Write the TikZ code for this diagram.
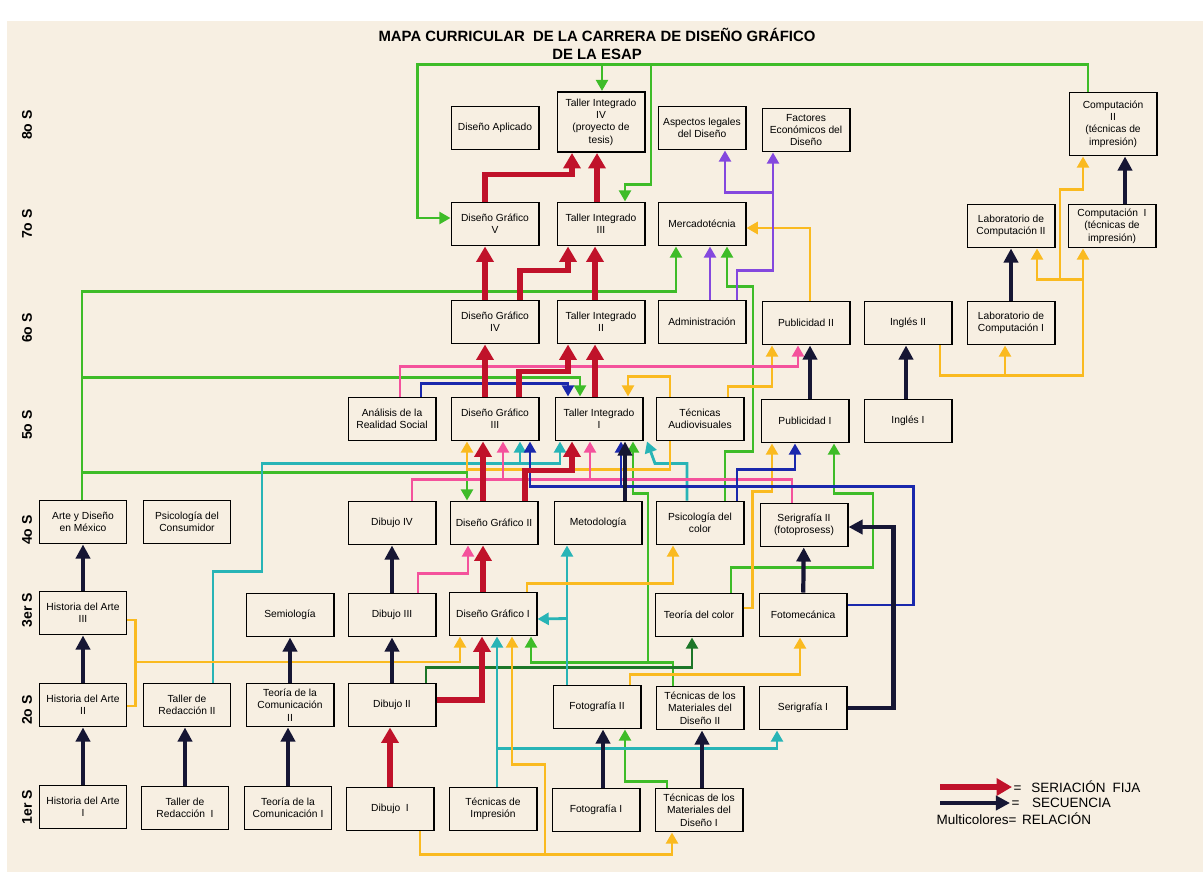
\documentclass[tikz,border=0pt]{standalone}
\usepackage{fontspec}
\setmainfont{Liberation Sans}
\usetikzlibrary{arrows.meta,calc}

\definecolor{papel}{RGB}{247,239,226}
\definecolor{rojo}{RGB}{192,18,42}
\definecolor{marino}{RGB}{22,22,52}
\definecolor{verde}{RGB}{62,188,40}
\definecolor{verdeosc}{RGB}{28,118,40}
\definecolor{turquesa}{RGB}{40,180,182}
\definecolor{amarillo}{RGB}{250,186,32}
\definecolor{rosa}{RGB}{244,82,156}
\definecolor{azul}{RGB}{26,40,172}
\definecolor{morado}{RGB}{132,72,222}

\begin{document}
\begin{tikzpicture}[
    x=0.025cm, y=-0.025cm,
    box/.style={draw,line width=1.4pt,fill=papel,minimum width=2.175cm,minimum height=1.075cm,
        align=center,inner sep=1pt,font=\fontsize{7.3}{8.8}\selectfont},
    semestre/.style={rotate=90,font=\bfseries\fontsize{10}{12}\selectfont},
    fija/.style={draw=rojo,line width=3.8pt,-{Triangle[width=12pt,length=11pt]}},
    secuencia/.style={draw=marino,line width=3pt,-{Triangle[width=10pt,length=10pt]}},
    rel/.style={line width=2pt,-{Triangle[width=8.5pt,length=8pt]}},
    liga/.style={line width=2pt},
]
\fill[white] (0,0) rectangle (1203,886);
\fill[papel] (7,21) rectangle (1203,872);
\useasboundingbox (0,0) rectangle (1203,886);

\node[font=\bfseries\fontsize{10.6}{12.8}\selectfont,align=center] (titulo) at (597,44)
    {MAPA CURRICULAR\ \ DE LA CARRERA DE DISEÑO GRÁFICO\\DE LA ESAP};

% semestres
\node[semestre] (s8) at (27,125) {8o S};
\node[semestre] (s7) at (27,224) {7o S};
\node[semestre] (s6) at (27,328) {6o S};
\node[semestre] (s5) at (27,425) {5o S};
\node[semestre] (s4) at (27,530) {4o S};
\node[semestre] (s3) at (27,610) {3er S};
\node[semestre] (s2) at (27,710) {2o S};
\node[semestre] (s1) at (27,807) {1er S};

% 8o semestre
\node[box] (dap) at (495,128) {Diseño Aplicado};
\node[box,minimum height=1.5cm] (ti4) at (601,122) {Taller Integrado\\IV\\(proyecto de\\tesis)};
\node[box] (asl) at (702,128) {Aspectos legales\\del Diseño};
\node[box] (fec) at (806,130) {Factores\\Económicos del\\Diseño};
\node[box,minimum height=1.575cm] (comp2) at (1113,124) {Computación\\II\\(técnicas de\\impresión)};

% 7o semestre
\node[box] (dg5) at (495,224) {Diseño Gráfico\\V};
\node[box] (ti3) at (601,224) {Taller Integrado\\III};
\node[box] (merc) at (702,224) {Mercadotécnia};
\node[box] (lab2) at (1011,226) {Laboratorio de\\Computación II};
\node[box] (comp1) at (1112,226) {Computación~~I\\(técnicas de\\impresión)};

% 6o semestre
\node[box] (dg4) at (495,322) {Diseño Gráfico\\IV};
\node[box] (ti2) at (601,322) {Taller Integrado\\II};
\node[box] (adm) at (702,322) {Administración};
\node[box] (pub2) at (806,323) {Publicidad II};
\node[box] (ing2) at (908,323) {Inglés II};
\node[box] (lab1) at (1011,323) {Laboratorio de\\Computación I};

% 5o semestre
\node[box] (ars) at (392,419) {Análisis de la\\Realidad Social};
\node[box] (dg3) at (495,419) {Diseño Gráfico\\III};
\node[box] (ti1) at (599,419) {Taller Integrado\\I};
\node[box] (tav) at (700,419) {Técnicas\\Audiovisuales};
\node[box] (pub1) at (805,421) {Publicidad I};
\node[box] (ing1) at (908,421) {Inglés I};

% 4o semestre
\node[box] (arm) at (83,522) {Arte y Diseño\\en México};
\node[box] (pcons) at (187,522) {Psicología del\\Consumidor};
\node[box] (dib4) at (392,523) {Dibujo IV};
\node[box] (dg2) at (494,523) {Diseño Gráfico II};
\node[box] (met) at (598,523) {Metodología};
\node[box] (pcol) at (700,523) {Psicología del\\color};
\node[box] (ser2) at (804,525) {Serigrafía II\\(fotoprosess)};

% 3er semestre
\node[box] (ha3) at (83,613) {Historia del Arte\\III};
\node[box] (sem) at (290,615) {Semiología};
\node[box] (dib3) at (392,615) {Dibujo III};
\node[box] (dg1) at (493,614) {Diseño Gráfico I};
\node[box] (tcol) at (699,615) {Teoría del color};
\node[box] (fmec) at (803,615) {Fotomecánica};

% 2o semestre
\node[box] (ha2) at (83,705) {Historia del Arte\\II};
\node[box] (tr2) at (187,705) {Taller de\\Redacción II};
\node[box] (tc2) at (290,705) {Teoría de la\\Comunicación\\II};
\node[box] (dib2) at (392,705) {Dibujo II};
\node[box] (fot2) at (597,707) {Fotografía II};
\node[box] (tm2) at (700,708) {Técnicas de los\\Materiales del\\Diseño II};
\node[box] (ser1) at (803,708) {Serigrafía I};

% 1er semestre
\node[box] (ha1) at (83,807) {Historia del Arte\\I};
\node[box] (tr1) at (185,808) {Taller de\\Redacción~~I};
\node[box] (tc1) at (288,808) {Teoría de la\\Comunicación I};
\node[box] (dib1) at (390,809) {Dibujo~~I};
\node[box] (timp) at (493,809) {Técnicas de\\Impresión};
\node[box] (fot1) at (596,810) {Fotografía I};
\node[box] (tm1) at (699,810) {Técnicas de los\\Materiales del\\Diseño I};

% relacion - verde
\draw[rel,verde] ($(comp2.north)+(-25,0)$) -- ++(0,-27) -| ($(dg5.west)+(-33,-6)$) -- ($(dg5.west)+(0,-6)$);
\draw[rel,verde] ($(ti4.north)+(1,-27)$) -- ($(ti4.north)+(1,0)$);
\draw[rel,verde] ($(ti3.north)+(50,-137)$) |- ($(ti3.north)+(24,-17)$) -- ($(ti3.north)+(24,0)$);
\draw[rel,verde] ($(arm.north)+(-1,0)$) |- ($(merc.south)+(-26,45)$) -- ($(merc.south)+(-26,0)$);
\draw[rel,verde] ($(arm.north)+(-1,-122)$) -| ($(ti1.north)+(-19,0)$);
\draw[rel,verde] ($(arm.north)+(-1,-27)$) -| ($(dg2.north)+(-27,0)$);
\draw[rel,verde] ($(pcol.north)+(25,0)$) -- ++(0,-49) -- ++(28,0) |- ($(merc.south)+(25,40)$) -- ($(merc.south)+(25,0)$);
\draw[rel,verde] ($(tm2.north)+(-27,0)$) |- ($(dg1.south)+(38,26)$) -- ($(dg1.south)+(38,0)$);
\draw[rel,verde] ($(tm2.north)+(-52,-24)$) |- ($(ti1.south)+(34,52)$) -- ($(ti1.south)+(34,0)$);
\draw[rel,verde] ($(tm1.north)+(-32,0)$) |- ($(fot2.south)+(28,52)$) -- ($(fot2.south)+(28,0)$);
\draw[rel,verde] ($(tcol.north)+(32,0)$) -- ++(0,-25) -- ++(142,0) |- ($(pub1.south)+(29,50)$) -- ($(pub1.south)+(29,0)$);
\draw[rel,verdeosc] ($(dib2.north)+(34,0)$) |- ($(tcol.south)+(-7,30)$) -- ($(tcol.south)+(-7,0)$);

% relacion - turquesa
\draw[rel,turquesa] ($(tr2.north)+(26,0)$) |- ($(sem.north)+(-28,-21)$) |- ($(ti1.south)+(-39,22)$) -- ($(ti1.south)+(-39,0)$);
\draw[rel,turquesa] ($(dg3.south)+(25,22)$) -- ($(dg3.south)+(25,0)$);
\draw[rel,turquesa] ($(pcol.north)+(-13,0)$) |- ($(ti1.south)+(56,22)$) -- ($(ti1.south)+(48,0)$);
\draw[rel,turquesa] ($(timp.north)+(4,0)$) -- ($(dg1.south)+(4,0)$);
\draw[rel,turquesa] ($(timp.north)+(4,-38)$) -| ($(ser1.south)+(-26,0)$);
\draw[rel,turquesa] ($(fot2.north)+(-30,0)$) -- ($(met.south)+(-31,0)$);
\draw[rel,turquesa] ($(fot2.north)+(-30,-66)$) -- ($(dg1.east)+(0,5)$);

% relacion - amarillo
\draw[liga,amarillo] ($(ha2.east)+(0,1)$) -| ($(ha3.east)+(8,7)$) -- ($(ha3.east)+(0,7)$);
\draw[rel,amarillo] ($(ha3.east)+(8,49)$) -| ($(dg1.south)+(-33,0)$);
\draw[rel,amarillo] ($(dib1.south)+(30,0)$) |- ($(tm1.south)+(-27,22)$) -- ($(tm1.south)+(-27,0)$);
\draw[rel,amarillo] ($(timp.south)+(52,22)$) |- ($(dg1.south)+(19,128)$) -- ($(dg1.south)+(19,0)$);
\draw[rel,amarillo] ($(fot2.north)+(33,0)$) |- ($(fmec.south)+(-3,37)$) -- ($(fmec.south)+(-3,0)$);
\draw[rel,amarillo] ($(dg1.north)+(34,0)$) |- ($(pcol.south)+(-27,38)$) -- ($(pcol.south)+(-27,0)$);
\draw[rel,amarillo] ($(tav.north)+(-30,0)$) |- ($(ti1.north)+(29,-20)$) -- ($(ti1.north)+(29,0)$);
\draw[rel,amarillo] ($(tav.south)+(-30,0)$) |- ($(dg3.south)+(-28,28)$) -- ($(dg3.south)+(-28,0)$);
\draw[rel,amarillo] ($(tav.north)+(28,0)$) -- ++(0,-10) -| ($(pub2.south)+(-34,0)$);
\draw[rel,amarillo] ($(pub2.north)+(4,0)$) |- ($(merc.east)+(0,4)$);
\draw[rel,amarillo] ($(tcol.east)+(0,-7)$) -- ++(9,0) |- ($(pub1.south)+(-33,48)$) -- ($(pub1.south)+(-33,0)$);
\draw[rel,amarillo] ($(ing2.south)+(32,0)$) |- ($(comp1.south)+(-29,127)$) -- ($(comp1.south)+(-29,0)$);
\draw[rel,amarillo] ($(lab1.south)+(-6,29)$) -- ($(lab1.south)+(-6,0)$);
\draw[rel,amarillo] ($(comp1.south)+(-29,31)$) -| ($(lab2.south)+(26,0)$);
\draw[rel,amarillo] ($(comp1.south)+(-52,31)$) |- ($(comp2.south)+(-30,33)$) -- ($(comp2.south)+(-30,0)$);

% relacion - rosa
\draw[rel,rosa] ($(ars.north)+(8,0)$) |- ($(pub2.south)+(-8,21)$) -- ($(pub2.south)+(-8,0)$);
\draw[rel,rosa] ($(dib3.north)+(26,0)$) |- ($(dg2.south)+(-26,28)$) -- ($(dg2.south)+(-26,0)$);
\draw[rel,rosa] ($(ser2.north)+(-12,0)$) |- ($(dg3.south)+(8,38)$) -- ($(dg3.south)+(8,0)$);
\draw[rel,rosa] ($(ti1.south)+(-9,38)$) -- ($(ti1.south)+(-9,0)$);
\draw[liga,rosa] ($(dib4.north)+(20,0)$) |- ($(dg3.south)+(8,38)$);

% relacion - azul
\draw[rel,azul] ($(ars.north)+(29,0)$) |- ($(ti1.north)+(-31,-13)$) -- ($(ti1.north)+(-31,0)$);
\draw[rel,azul] ($(fmec.east)+(0,-10)$) -- ++(66,0) |- ($(dg3.south)+(35,45)$) -- ($(dg3.south)+(35,0)$);
\draw[rel,azul] ($(ti1.south)+(22,45)$) -- ($(ti1.south)+(22,0)$);
\draw[rel,azul] ($(pcol.north)+(37,0)$) |- ($(pub1.south)+(-10,26)$) -- ($(pub1.south)+(-10,0)$);

% relacion - morado
\draw[rel,morado] ($(adm.north)+(8,0)$) -- ($(merc.south)+(8,0)$);
\draw[rel,morado] ($(adm.north)+(35,0)$) -- ++(0,-29) -| ($(fec.south)+(-33,0)$);
\draw[rel,morado] ($(fec.south)+(-33,40)$) -| ($(asl.south)+(23,0)$);

% seriacion fija
\draw[fija] (dib1.north) -- (dib1.north |- dib2.south);
\draw[fija] ($(dib2.east)+(0,-5)$) -| ($(dg1.south)+(-11,0)$);
\draw[fija] ($(dg1.north)+(-10,0)$) -- ($(dg2.south)+(-11,0)$);
\draw[fija] ($(dg2.north)+(-11,0)$) -- ($(dg3.south)+(-12,0)$);
\draw[fija] ($(dg2.north)+(31,0)$) -- ++(0,-30) -| ($(ti1.south)+(-27,0)$);
\draw[fija] ($(dg3.north)+(-10,0)$) -- ($(dg4.south)+(-10,0)$);
\draw[fija] ($(dg3.north)+(24,0)$) -- ++(0,-25) -| ($(ti2.south)+(-33,0)$);
\draw[fija] ($(ti1.north)+(-4,0)$) -- ($(ti2.south)+(-6,0)$);
\draw[fija] ($(dg4.north)+(-10,0)$) -- ($(dg5.south)+(-10,0)$);
\draw[fija] ($(dg4.north)+(25,0)$) -- ++(0,-29) -| ($(ti3.south)+(-33,0)$);
\draw[fija] ($(ti2.north)+(-6,0)$) -- ($(ti3.south)+(-6,0)$);
\draw[fija] ($(dg5.north)+(-10,0)$) -- ++(0,-27) -| ($(ti4.south)+(-29,0)$);
\draw[fija] ($(ti3.north)+(-4,0)$) -- ($(ti4.south)+(-4,0)$);

% secuencia
\draw[secuencia] (ha1) -- (ha2);
\draw[secuencia] (ha2) -- (ha3);
\draw[secuencia] (ha3) -- (arm);
\draw[secuencia] (tr1.north) -- (tr1.north |- tr2.south);
\draw[secuencia] (tc1.north) -- (tc1.north |- tc2.south);
\draw[secuencia] (tc2) -- (sem);
\draw[secuencia] (dib2) -- (dib3);
\draw[secuencia] (dib3) -- (dib4);
\draw[secuencia] ($(fot1.north)+(7,0)$) -- ($(fot2.south)+(6,0)$);
\draw[secuencia] ($(tm1.north)+(3,0)$) -- ($(tm2.south)+(2,0)$);
\draw[secuencia] ($(met.north)+(27,0)$) -- ($(ti1.south)+(26,0)$);
\draw[secuencia] (fmec) -- (ser2);
\draw[secuencia] (ser1.east) -| ($(ser2.east)+(45,2)$) -- ($(ser2.east)+(0,2)$);
\draw[secuencia] ($(pub1.north)+(5,0)$) -- ($(pub2.south)+(4,0)$);
\draw[secuencia] ($(ing1.north)+(-2,0)$) -- ($(ing2.south)+(-2,0)$);
\draw[secuencia] (lab1) -- (lab2);
\draw[secuencia] ($(comp1.north)+(13,0)$) -- ($(comp2.south)+(12,0)$);

% leyenda
\coordinate (leyfija) at (940,787);
\coordinate (leysec) at (940,803);
\node[anchor=west,inner sep=1pt,font=\fontsize{9.6}{10}\selectfont] (lfija) at (1012,787) {=\hspace{7pt}SERIACIÓN\hspace{5pt}FIJA};
\node[anchor=west,inner sep=1pt,font=\fontsize{9.6}{10}\selectfont] (lsec) at (1010,803) {=\hspace{9pt}SECUENCIA};
\node[anchor=west,inner sep=1pt,font=\fontsize{9.6}{10}\selectfont] (lrel) at (935,819) {Multicolores=\hspace{4pt}RELACIÓN};
\draw[fija,line width=4.5pt] (leyfija) -- (lfija.west);
\draw[secuencia] (leysec) -- (lsec.west);
\end{tikzpicture}
\end{document}
